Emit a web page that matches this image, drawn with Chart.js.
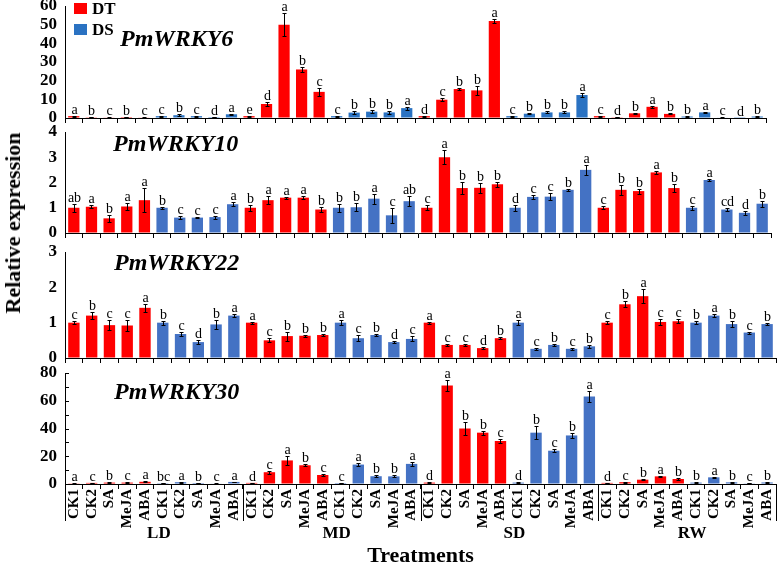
<!DOCTYPE html>
<html>
<head>
<meta charset="utf-8">
<script src="https://cdn.jsdelivr.net/npm/chart.js@4.4.1/dist/chart.umd.min.js"></script>
<style>
html,body{margin:0;padding:0;background:#fff;}
body{width:777px;height:570px;position:relative;overflow:hidden;}
canvas{position:absolute;left:0;}
#ytitle{position:absolute;left:13px;top:223px;transform:translate(-50%,-50%) rotate(-90deg);font:bold 22px 'Liberation Serif','Times New Roman',serif;white-space:nowrap;color:#000;}
</style>
</head>
<body>
<canvas id="c0"></canvas>
<canvas id="c1"></canvas>
<canvas id="c2"></canvas>
<canvas id="c3"></canvas>
<div id="ytitle">Relative expression</div>
<script>
// ---------- data ----------
const groups = ['LD','MD','SD','RW'];
const cultivars = ['DT','DS'];
const treatments = ['CK1','CK2','SA','MeJA','ABA'];
const genes = ['PmWRKY6','PmWRKY10','PmWRKY22','PmWRKY30'];

const wrky6Values = [1.0,0.4,0.2,0.5,0.2, 1.0,1.5,1.0,0.5,2.0,
                     1.0,7.5,50,26,14, 1.0,2.9,3.4,3.0,5.3,
                     1.0,9.8,15.5,14.8,52, 1.0,2.3,3.0,3.0,12.3,
                     1.0,0.4,2.5,6.0,2.2, 0.8,3.0,0.3,0.1,0.8];
const wrky6Errors = [0.2,0.1,0.1,0.1,0.1, 0.2,0.4,0.2,0.1,0.3,
                     0.2,1.2,6.0,1.2,2.2, 0.3,0.8,0.8,0.6,0.8,
                     0.2,0.8,0.4,2.3,1.0, 0.2,0.3,0.5,0.5,1.3,
                     0.2,0.1,0.3,0.4,0.3, 0.2,0.4,0.1,0.05,0.2];
const wrky6Letters = ['a','b','c','b','c','c','b','c','d','a',
                      'e','d','a','b','c','c','b','b','b','a',
                      'd','c','b','b','a','c','b','b','b','a',
                      'c','d','b','a','b','b','a','c','d','b'];

const wrky10Values = [1.0,1.04,0.58,1.05,1.3, 1.0,0.61,0.61,0.63,1.14,
                      1.0,1.3,1.4,1.4,0.93, 1.0,1.02,1.36,0.7,1.26,
                      1.0,3.0,1.78,1.79,1.93, 1.0,1.43,1.44,1.71,2.5,
                      1.0,1.71,1.66,2.4,1.78, 1.0,2.1,0.93,0.8,1.16];
const wrky10Errors = [0.15,0.05,0.15,0.12,0.48, 0.04,0.05,0.03,0.06,0.08,
                      0.12,0.15,0.04,0.07,0.1, 0.15,0.15,0.2,0.3,0.2,
                      0.1,0.27,0.25,0.2,0.1, 0.12,0.08,0.15,0.05,0.2,
                      0.05,0.2,0.1,0.07,0.15, 0.07,0.05,0.07,0.07,0.12];
const wrky10Letters = ['ab','a','b','a','a','b','c','c','c','a',
                       'b','a','a','a','b','b','b','a','c','ab',
                       'c','a','b','b','b','d','c','c','b','a',
                       'c','b','b','a','b','c','a','cd','d','b'];

const wrky22Values = [1.0,1.2,0.93,0.92,1.42, 1.0,0.68,0.45,0.95,1.2,
                      1.0,0.5,0.62,0.63,0.65, 1.0,0.56,0.65,0.45,0.54,
                      1.0,0.37,0.37,0.28,0.56, 1.0,0.26,0.37,0.26,0.33,
                      1.0,1.52,1.75,1.02,1.04, 1.0,1.2,0.96,0.72,0.96];
const wrky22Errors = [0.05,0.1,0.14,0.15,0.12, 0.06,0.05,0.06,0.12,0.05,
                      0.03,0.06,0.13,0.03,0.03, 0.08,0.08,0.04,0.02,0.07,
                      0.03,0.03,0.03,0.02,0.03, 0.08,0.03,0.03,0.02,0.04,
                      0.04,0.09,0.2,0.08,0.05, 0.04,0.05,0.08,0.03,0.02];
const wrky22Letters = ['c','b','c','c','a','b','c','d','b','a',
                       'a','c','b','b','b','a','c','b','d','c',
                       'a','c','c','d','b','a','c','b','c','b',
                       'c','b','a','c','c','b','a','b','c','b'];

const wrky30Values = [0.5,0.8,1.0,1.0,1.6, 0.6,1.3,0.7,0.3,1.5,
                      0.8,8.5,17,13.5,6.5, 0.7,14,5.6,5.5,14.5,
                      1.0,71,40,37,31, 1.0,37,24,35,63,
                      0.8,1.3,3.1,5.5,3.6, 1.0,4.8,1.2,0.5,1.1];
const wrky30Errors = [0.2,0.2,0.3,0.3,0.3, 0.2,0.3,0.3,0.1,0.3,
                      0.2,1.2,3.5,0.8,0.8, 0.2,1.2,0.8,0.8,1.5,
                      0.3,4,4.5,1.5,1.5, 0.3,4.5,1,1.5,4,
                      0.2,0.3,0.3,0.5,0.4, 0.2,0.3,0.2,0.1,0.2];
const wrky30Letters = ['a','c','b','c','a','bc','a','b','c','a',
                       'd','c','a','b','c','c','a','b','b','a',
                       'd','a','b','b','c','d','b','c','b','a',
                       'd','c','b','a','b','b','a','b','c','b'];

const wrky6Ticks = [0,10,20,30,40,50,60];
const wrky10Ticks = [0,1,2,3,4];
const wrky22Ticks = [0,1,2,3];
const wrky30Ticks = [0,20,40,60,80];

// ---------- helpers ----------
const FONT = "'Liberation Serif','Times New Roman',serif";
const categoryLabels = groups.flatMap(() => cultivars.flatMap(() => treatments));
const cultivarOf = i => Math.floor(i / treatments.length) % cultivars.length;

const panelData = [
  {values: wrky6Values, errors: wrky6Errors, letters: wrky6Letters, ticks: wrky6Ticks},
  {values: wrky10Values, errors: wrky10Errors, letters: wrky10Letters, ticks: wrky10Ticks},
  {values: wrky22Values, errors: wrky22Errors, letters: wrky22Letters, ticks: wrky22Ticks},
  {values: wrky30Values, errors: wrky30Errors, letters: wrky30Letters, ticks: wrky30Ticks}
];
// layout (page pixels)
const layoutCfg = [
  {areaTop:6,   areaBottom:118, right:766, padTop:6,  axisH:6,  titleX:120, titleBase:46,  blue:'#2A72C2'},
  {areaTop:132, areaBottom:233, right:771, padTop:10, axisH:6,  titleX:113, titleBase:151, blue:'#4472C4'},
  {areaTop:252, areaBottom:358, right:776, padTop:10, axisH:6,  titleX:114, titleBase:270, blue:'#4472C4'},
  {areaTop:373, areaBottom:484, right:776, padTop:12, axisH:86, titleX:114, titleBase:399, blue:'#4472C4'}
];
const RED = '#FF0000';

const annotPlugin = {
  id: 'annot',
  afterDatasetsDraw(chart) {
    const o = chart.options.plugins.annot;
    const ctx = chart.ctx, y = chart.scales.y;
    ctx.save();
    chart.data.datasets.forEach((ds, di) => {
      const meta = chart.getDatasetMeta(di);
      ds.data.forEach((v, i) => {
        if (v == null) return;
        const x = Math.round(meta.data[i].x) + 0.5;
        const e = o.errors[i];
        const yt = Math.round(y.getPixelForValue(v + e)) + 0.5;
        const yb = Math.round(y.getPixelForValue(Math.max(v - e, 0))) + 0.5;
        ctx.strokeStyle = '#000'; ctx.lineWidth = 1;
        ctx.beginPath();
        ctx.moveTo(x, yt); ctx.lineTo(x, yb);
        ctx.moveTo(x - 2, yt); ctx.lineTo(x + 2, yt);
        ctx.moveTo(x - 2, yb); ctx.lineTo(x + 2, yb);
        ctx.stroke();
        ctx.fillStyle = '#000';
        ctx.font = '14px ' + FONT;
        ctx.textAlign = 'center'; ctx.textBaseline = 'alphabetic';
        ctx.fillText(o.letters[i], x, yt - 3);
      });
    });
    ctx.restore();
  },
  afterDraw(chart) {
    const o = chart.options.plugins.annot;
    const ctx = chart.ctx;
    ctx.save();
    ctx.fillStyle = '#000';
    ctx.font = 'italic bold 24px ' + FONT;
    ctx.textAlign = 'left'; ctx.textBaseline = 'alphabetic';
    ctx.fillText(o.title, o.titleX, o.titleY);
    if (o.legend) {
      ctx.font = 'bold 17px ' + FONT;
      ctx.textBaseline = 'middle';
      o.legend.forEach((it) => {
        ctx.fillStyle = it.color;
        ctx.fillRect(74, it.y - 5, 13, 11);
        ctx.fillStyle = '#000';
        ctx.fillText(it.text, 92, it.y + 2);
      });
    }
    if (o.bottom) {
      const x = chart.scales.x, y = chart.scales.y;
      const per = treatments.length * cultivars.length;
      const half = (x.getPixelForValue(1) - x.getPixelForValue(0)) / 2;
      ctx.strokeStyle = '#000'; ctx.lineWidth = 1;
      ctx.beginPath();
      for (let g = 0; g <= groups.length; g++) {
        const px = g < groups.length ? x.getPixelForValue(g * per) - half : x.right;
        const xx = Math.round(px) + 0.5;
        ctx.moveTo(xx, x.top); ctx.lineTo(xx, x.top + 37);
      }
      ctx.stroke();
      ctx.fillStyle = '#000';
      ctx.font = 'bold 17px ' + FONT;
      ctx.textAlign = 'center'; ctx.textBaseline = 'alphabetic';
      groups.forEach((g, k) => {
        const cx = (x.getPixelForValue(k * per) + x.getPixelForValue(k * per + per - 1)) / 2;
        ctx.fillText(g, cx + 5, x.top + 54);
      });
      // minor ticks on y axis (inward)
      const t = o.yticks;
      ctx.beginPath();
      for (let k = 0; k < t.length; k++) {
        const vals = [t[k]];
        if (k < t.length - 1) vals.push((t[k] + t[k + 1]) / 2);
        vals.forEach(v => {
          const py = Math.round(y.getPixelForValue(v)) + 0.5;
          ctx.moveTo(y.right, py); ctx.lineTo(y.right + 4, py);
        });
      }
      ctx.stroke();
    }
    ctx.restore();
  }
};

panelData.forEach((pd, p) => {
  const L = layoutCfg[p];
  const isBottom = p === panelData.length - 1;
  const canvasTop = L.areaTop - L.padTop;
  const H = L.areaBottom + L.axisH - canvasTop;
  const cv = document.getElementById('c' + p);
  cv.width = 777; cv.height = H;
  cv.style.top = canvasTop + 'px';
  cv.style.width = '777px'; cv.style.height = H + 'px';

  const dt = pd.values.map((v, i) => cultivarOf(i) === 0 ? v : null);
  const dsv = pd.values.map((v, i) => cultivarOf(i) === 1 ? v : null);

  new Chart(cv, {
    type: 'bar',
    data: {
      labels: categoryLabels,
      datasets: [
        {label: cultivars[0], data: dt, backgroundColor: RED, borderWidth: 0},
        {label: cultivars[1], data: dsv, backgroundColor: L.blue, borderWidth: 0}
      ]
    },
    options: {
      responsive: false,
      animation: false,
      devicePixelRatio: 1,
      layout: {padding: {top: L.padTop, left: 0, right: 777 - L.right, bottom: 0}},
      datasets: {bar: {grouped: false, barPercentage: 0.64, categoryPercentage: 1}},
      plugins: {
        legend: {display: false},
        tooltip: {enabled: false},
        annot: {
          errors: pd.errors, letters: pd.letters,
          title: genes[p], titleX: L.titleX, titleY: L.titleBase - canvasTop,
          legend: p === 0 ? [{text: cultivars[0], color: RED, y: 8 - canvasTop}, {text: cultivars[1], color: L.blue, y: 29 - canvasTop}] : null,
          bottom: isBottom, yticks: pd.ticks
        }
      },
      scales: {
        x: {
          type: 'category',
          offset: true,
          grid: {display: true, drawOnChartArea: false, drawTicks: true, tickLength: 5, color: '#000', offset: true},
          border: {display: true, color: '#000', width: 1},
          ticks: {
            display: isBottom, autoSkip: false, minRotation: 90, maxRotation: 90,
            color: '#000', padding: 0, font: {family: FONT, size: 15, weight: 'bold'}
          },
          title: {display: isBottom, text: 'Treatments', color: '#000', padding: {top: 0, bottom: 0},
                  font: {family: FONT, size: 22, weight: 'bold'}},
          afterFit(s) { s.height = L.axisH; s.paddingLeft = 0; s.paddingRight = 0; }
        },
        y: {
          min: pd.ticks[0], max: pd.ticks[pd.ticks.length - 1],
          afterBuildTicks(s) { s.ticks = pd.ticks.map(v => ({value: v})); },
          grid: {display: true, drawOnChartArea: false, drawTicks: false},
          border: {display: true, color: '#000', width: 1},
          ticks: {autoSkip: false, color: '#000', padding: 8, font: {family: FONT, size: 17, weight: 'bold'}},
          afterFit(s) { s.width = 65; s.paddingTop = 0; s.paddingBottom = 0; }
        }
      }
    },
    plugins: [annotPlugin]
  });
});
</script>
</body>
</html>
